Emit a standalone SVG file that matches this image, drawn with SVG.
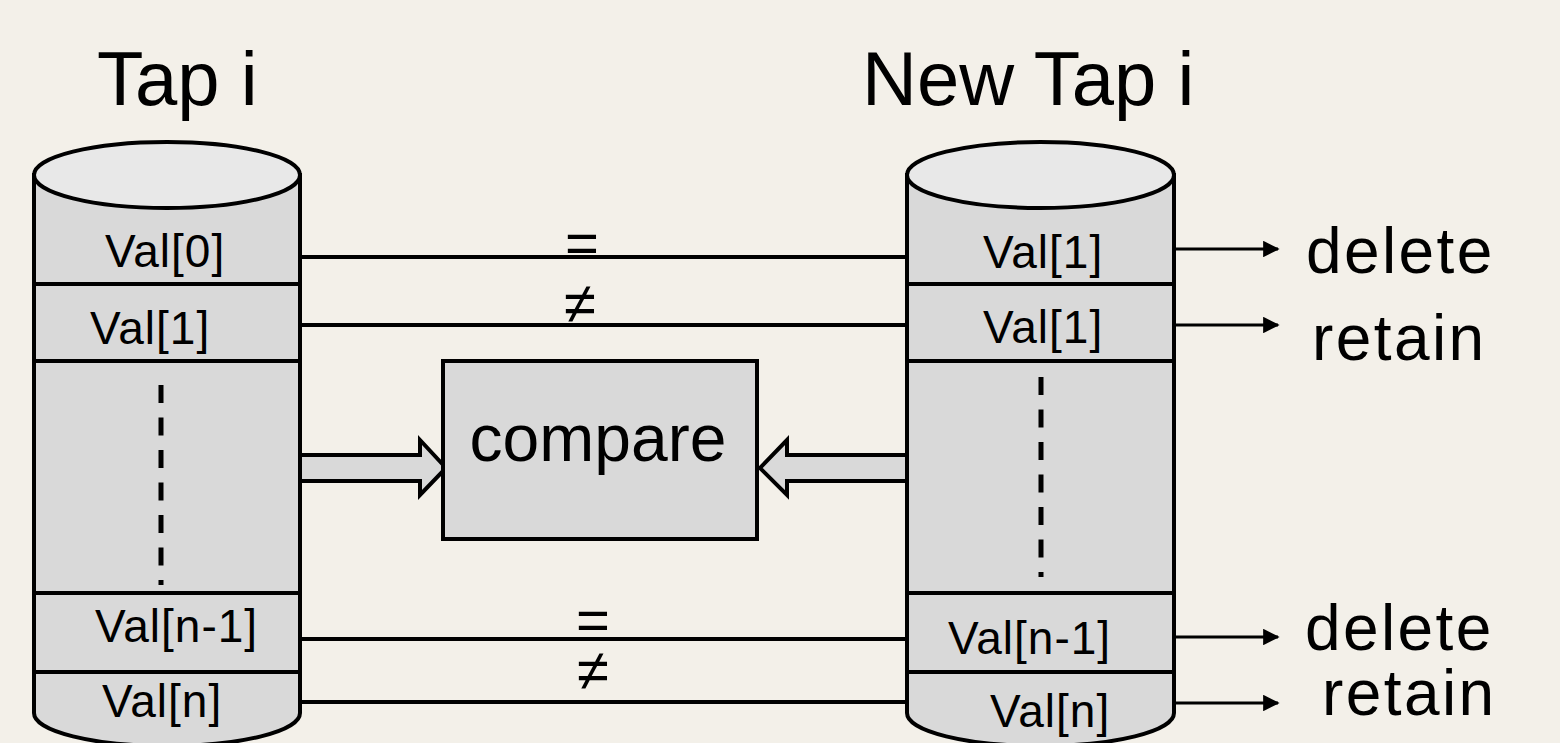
<svg xmlns="http://www.w3.org/2000/svg" width="1560" height="743" viewBox="0 0 1560 743">
  <defs>
    <marker id="arrow" viewBox="0 0 10 10" refX="9" refY="5" markerWidth="5.5" markerHeight="5.5" orient="auto" markerUnits="strokeWidth">
      <path d="M0,0 L10,5 L0,10 Z" fill="#000"/>
    </marker>
  </defs>
  <style>
    text { font-family: "Liberation Sans", Arial, sans-serif; fill: #000; }
    .title { font-size: 76px; }
    .val { font-size: 46px; letter-spacing: 1px; }
    .out { font-size: 64px; letter-spacing: 2.4px; }
    .op { font-size: 58px; text-anchor: middle; }
    .body { fill: #d9d9d9; stroke: #000; stroke-width: 4; }
    .lid { fill: #e8e8e8; stroke: #000; stroke-width: 4; }
    .sep { stroke: #000; stroke-width: 4; }
    .dash { stroke: #000; stroke-width: 5; stroke-dasharray: 18 14.5; }
    .link { stroke: #000; stroke-width: 4; fill: none; }
    .result { stroke: #000; stroke-width: 3; fill: none; marker-end: url(#arrow); }
    .block { fill: #d9d9d9; stroke: #000; stroke-width: 4; stroke-linejoin: miter; }
  </style>

  <rect width="1560" height="743" fill="#f3f0e9"/>

  <!-- connectors: value links, block arrows into compare, result arrows -->
  <g id="connectors">
    <line class="link" x1="300" y1="257" x2="907" y2="257"/>
    <line class="link" x1="300" y1="325" x2="907" y2="325"/>
    <line class="link" x1="300" y1="639" x2="907" y2="639"/>
    <line class="link" x1="300" y1="702" x2="907" y2="702"/>
    <text class="op" x="582" y="263">=</text>
    <text class="op" x="580" y="323">≠</text>
    <text class="op" x="593" y="640">=</text>
    <text class="op" x="593" y="690">≠</text>

    <path class="block" d="M300,455 L420,455 L420,440 L446,468 L420,495 L420,481 L300,481 Z"/>
    <path class="block" d="M907,455 L787,455 L787,440 L760,468 L787,495 L787,481 L907,481 Z"/>

    <line class="result" x1="1174" y1="249" x2="1278" y2="249"/>
    <line class="result" x1="1174" y1="325" x2="1278" y2="325"/>
    <line class="result" x1="1174" y1="637" x2="1278" y2="637"/>
    <line class="result" x1="1174" y1="703" x2="1278" y2="703"/>
  </g>

  <!-- left store -->
  <g id="tap">
    <text class="title" x="97" y="105">Tap i</text>
    <path class="body" d="M34,175 L34,713 A133,33 0 0 0 300,713 L300,175 Z"/>
    <ellipse class="lid" cx="167" cy="175" rx="133" ry="33"/>
    <line class="sep" x1="36" y1="284" x2="298" y2="284"/>
    <line class="sep" x1="36" y1="361" x2="298" y2="361"/>
    <line class="sep" x1="36" y1="593" x2="298" y2="593"/>
    <line class="sep" x1="36" y1="672" x2="298" y2="672"/>
    <line class="dash" x1="161" y1="385" x2="161" y2="585"/>
    <text class="val" x="105" y="267">Val[0]</text>
    <text class="val" x="90" y="344">Val[1]</text>
    <text class="val" x="95" y="642">Val[n-1]</text>
    <text class="val" x="102" y="717">Val[n]</text>
  </g>

  <!-- right store -->
  <g id="new-tap">
    <text class="title" x="862" y="105">New Tap i</text>
    <path class="body" d="M907,175 L907,713 A133.5,33 0 0 0 1174,713 L1174,175 Z"/>
    <ellipse class="lid" cx="1040.5" cy="175" rx="133.5" ry="33"/>
    <line class="sep" x1="909" y1="284" x2="1172" y2="284"/>
    <line class="sep" x1="909" y1="361" x2="1172" y2="361"/>
    <line class="sep" x1="909" y1="593" x2="1172" y2="593"/>
    <line class="sep" x1="909" y1="672" x2="1172" y2="672"/>
    <line class="dash" x1="1041" y1="377" x2="1041" y2="577"/>
    <text class="val" x="983" y="268">Val[1]</text>
    <text class="val" x="983" y="343">Val[1]</text>
    <text class="val" x="948" y="654">Val[n-1]</text>
    <text class="val" x="990" y="727">Val[n]</text>
  </g>

  <!-- comparison unit -->
  <g id="compare">
    <rect x="443" y="361" width="314" height="178" fill="#d9d9d9" stroke="#000" stroke-width="4"/>
    <text x="598" y="461" font-size="66" text-anchor="middle">compare</text>
  </g>

  <!-- outcomes -->
  <g id="outcomes">
    <text class="out" x="1306" y="273">delete</text>
    <text class="out" x="1312" y="360">retain</text>
    <text class="out" x="1305" y="650">delete</text>
    <text class="out" x="1322" y="715">retain</text>
  </g>
</svg>
